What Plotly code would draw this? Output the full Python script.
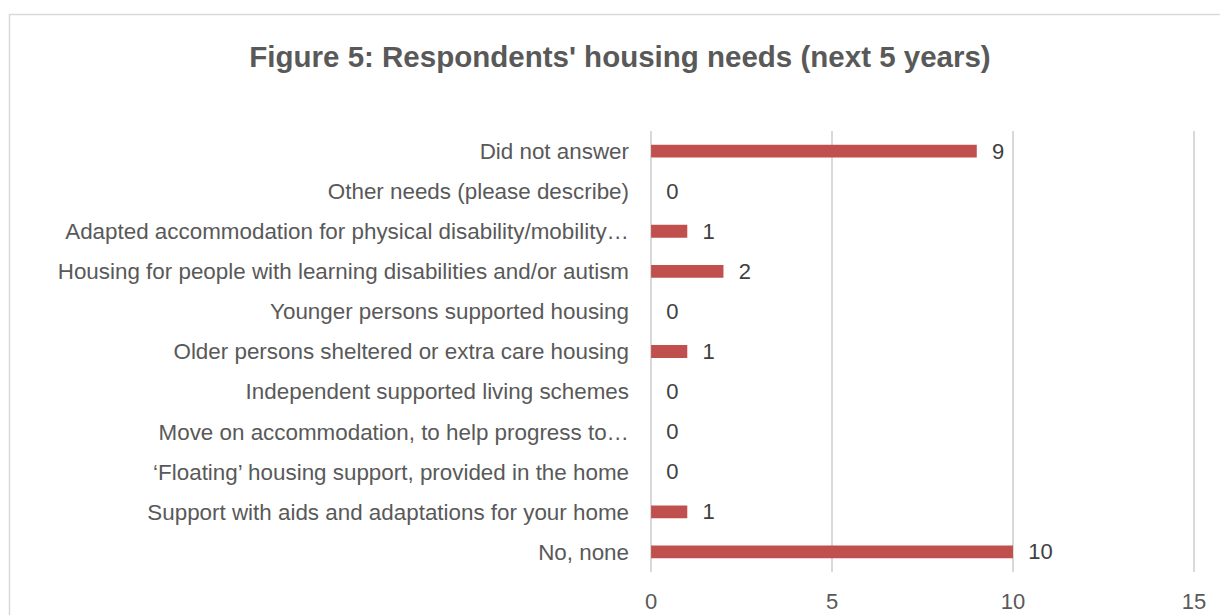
import plotly.graph_objects as go

categories = [
    "Did not answer",
    "Other needs (please describe)",
    "Adapted accommodation for physical disability/mobility…",
    "Housing for people with learning disabilities and/or autism",
    "Younger persons supported housing",
    "Older persons sheltered or extra care housing",
    "Independent supported living schemes",
    "Move on accommodation, to help progress to…",
    "‘Floating’ housing support, provided in the home",
    "Support with aids and adaptations for your home",
    "No, none",
]
values = [9, 0, 1, 2, 0, 1, 0, 0, 0, 1, 10]
x_ticks = [0, 5, 10, 15]

FONT = "Liberation Sans, Arial, sans-serif"

W, H = 1220, 615
L, R, T, B = 650, 25, 131, 43
pw, ph = W - L - R, H - T - B

fig = go.Figure(go.Bar(
    x=values, y=categories, orientation="h",
    marker=dict(color="#C0504D", line=dict(width=0)),
    width=0.32,
    text=values, texttemplate="\u00a0\u00a0%{x}", textposition="outside",
    textfont=dict(family=FONT, size=22, color="#404040"),
    outsidetextfont=dict(family=FONT, size=22, color="#404040"),
    constraintext="none",
    cliponaxis=False,
    hoverinfo="skip",
))

fig.update_layout(
    width=W, height=H,
    margin=dict(l=L, r=R, t=T, b=B, autoexpand=False),
    paper_bgcolor="white", plot_bgcolor="white",
    showlegend=False,
    title=dict(text="<b>Figure 5: Respondents' housing needs (next 5 years)</b>",
               x=620 / W, xanchor="center", y=1 - 57 / H, yanchor="middle",
               font=dict(family=FONT, size=29.5, color="#595959")),
    xaxis=dict(range=[-0.03, 15.03], tickvals=x_ticks, showgrid=True, gridcolor="#D9D9D9",
               gridwidth=1.5, zeroline=False, showline=False, automargin=False,
               tickfont=dict(family=FONT, size=22, color="#595959"), ticks="",
               ticklabelstandoff=14),
    yaxis=dict(autorange="reversed", showgrid=False, zeroline=False, showline=False,
               automargin=False,
               tickfont=dict(family=FONT, size=22.4, color="#595959"), ticks="",
               ticklabelstandoff=20),
    shapes=[dict(type="rect", xref="paper", yref="paper",
                 x0=(9.5 - L) / pw, x1=(W + 10 - L) / pw,
                 y0=-(B + 20) / ph, y1=((H - B) - 14.5) / ph,
                 line=dict(color="#D9D9D9", width=1.5), fillcolor="rgba(0,0,0,0)", layer="below")],
)
fig.write_html("out.html", config={"displayModeBar": False, "staticPlot": True},
               post_script="document.body.style.margin='0';document.body.style.overflow='hidden';")
